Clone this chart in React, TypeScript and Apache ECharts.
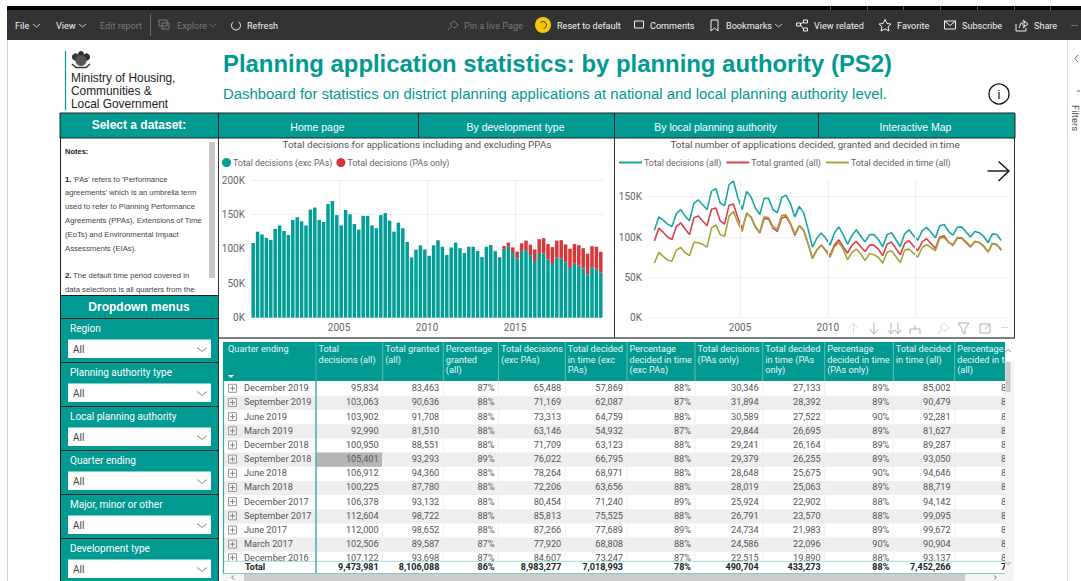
import React, { useEffect, useRef } from "react";
import * as echarts from "echarts";

// ---- series data (quarters from Q1 2000 to Q4 2019) ----
const firstYear = 2000;
const decisionsAll = [
  108500, 125000, 121000, 116000, 113000, 129000, 134000, 126000, 120000, 142000, 146000, 140000,
  134000, 157000, 160000, 142000, 139000, 165000, 169500, 149000, 134000, 156500, 150000, 136000,
  128000, 148000, 148000, 134000, 130000, 149000, 152000, 141000, 125000, 138000, 130000, 110000,
  87500, 98500, 105000, 99000, 90000, 105000, 112500, 103000, 91000, 102000, 109000, 101000,
  94000, 103000, 103000, 97000, 88000, 103000, 105500, 97000, 88000, 104000, 109000, 102000,
  96000, 108000, 112000, 106000, 99000, 114000, 115500, 107122, 102506, 112000, 112604, 106378,
  100225, 106912, 105401, 100950, 92990, 103902, 103063, 95834,
];
const decisionsExcPAs = [
  108500, 125000, 121000, 116000, 113000, 129000, 134000, 126000, 120000, 142000, 146000, 140000,
  134000, 157000, 160000, 142000, 139000, 165000, 169500, 149000, 134000, 156500, 150000, 136000,
  128000, 148000, 148000, 134000, 130000, 149000, 152000, 141000, 125000, 138000, 130000, 110000,
  87500, 98500, 105000, 99000, 90000, 105000, 112500, 103000, 91000, 102000, 109000, 101000,
  94000, 103000, 103000, 97000, 88000, 103000, 105500, 96000, 87000, 100000, 103000, 94000,
  86000, 97000, 98000, 91000, 81000, 94000, 93000, 84607, 77920, 87266, 85813, 80454,
  72206, 78264, 76022, 71709, 63146, 73313, 71169, 65488,
];
const decisionsPAsOnly = [
  0, 0, 0, 0, 0, 0, 0, 0, 0, 0, 0, 0, 0, 0, 0, 0, 0, 0, 0, 0,
  0, 0, 0, 0, 0, 0, 0, 0, 0, 0, 0, 0, 0, 0, 0, 0, 0, 0, 0, 0,
  0, 0, 0, 0, 0, 0, 0, 0, 0, 0, 0, 0, 0, 0, 0, 1000, 1000, 4000, 6000, 8000,
  10000, 11000, 14000, 15000, 18000, 20000, 22500, 22515, 24586, 24734, 26791, 25924,
  28019, 28648, 29379, 29241, 29844, 30589, 31894, 30346,
];
const grantedAll = [
  95000, 111000, 106000, 100000, 97000, 113000, 117500, 110000, 103000, 124000, 126000, 120000,
  114000, 134500, 136000, 120000, 116000, 139500, 141000, 124000, 110000, 129000, 125000, 113000,
  105000, 123000, 122500, 111000, 107000, 124000, 125000, 116000, 102000, 114000, 108000, 92000,
  73500, 84000, 90000, 84000, 77000, 90000, 96500, 88000, 80000, 90000, 94500, 88000,
  82000, 90000, 90000, 85000, 77000, 91000, 94000, 86000, 78000, 92000, 95500, 89000,
  83000, 94000, 98000, 92000, 86000, 100000, 101500, 93698, 89587, 98652, 98722, 93132,
  87780, 94360, 93293, 88551, 81510, 91708, 90636, 83463,
];
const decidedInTimeAll = [
  67500, 81000, 76000, 71500, 70000, 84000, 87000, 80500, 77000, 93500, 93000, 91000,
  87500, 111000, 115000, 103000, 101000, 126000, 131500, 118000, 107000, 130000, 124000, 112000,
  106000, 125500, 124000, 113000, 110000, 127000, 127500, 117000, 104000, 114500, 109000, 92000,
  74000, 84000, 90000, 83000, 75000, 88000, 93000, 85000, 72000, 81000, 85000, 79000,
  71000, 79500, 78000, 75000, 67500, 81000, 83000, 76000, 68500, 84000, 85000, 80000,
  75000, 87000, 90500, 87000, 83000, 98500, 99500, 93137, 90904, 99672, 99095, 94142,
  88719, 94646, 93050, 89287, 81627, 92281, 90479, 85002,
];

// ---- table data ----
const tableHeaders = [
  ["Total", "decisions (all)"], ["Total granted", "(all)"], ["Percentage", "granted", "(all)"],
  ["Total decisions", "(exc PAs)"], ["Total decided", "in time (exc", "PAs)"],
  ["Percentage", "decided in time", "(exc PAs)"], ["Total decisions", "(PAs only)"],
  ["Total decided", "in time (PAs", "only)"], ["Percentage", "decided in time", "(PAs only)"],
  ["Total decided", "in time (all)"], ["Percentage", "decided in time", "(all)"],
];
const quarterLabels = ["December 2019", "September 2019", "June 2019", "March 2019", "December 2018", "September 2018", "June 2018", "March 2018", "December 2017", "September 2017", "June 2017", "March 2017", "December 2016"];
const colTotalAll = ["95,834", "103,063", "103,902", "92,990", "100,950", "105,401", "106,912", "100,225", "106,378", "112,604", "112,000", "102,506", "107,122"];
const colGranted = ["83,463", "90,636", "91,708", "81,510", "88,551", "93,293", "94,360", "87,780", "93,132", "98,722", "98,652", "89,587", "93,698"];
const colPctGranted = ["87%", "88%", "88%", "88%", "88%", "89%", "88%", "88%", "88%", "88%", "88%", "87%", "87%"];
const colTotalExc = ["65,488", "71,169", "73,313", "63,146", "71,709", "76,022", "78,264", "72,206", "80,454", "85,813", "87,266", "77,920", "84,607"];
const colDecidedExc = ["57,869", "62,087", "64,759", "54,932", "63,123", "66,795", "68,971", "63,656", "71,240", "75,525", "77,689", "68,808", "73,247"];
const colPctExc = ["88%", "87%", "88%", "87%", "88%", "88%", "88%", "88%", "89%", "88%", "89%", "88%", "87%"];
const colTotalPA = ["30,346", "31,894", "30,589", "29,844", "29,241", "29,379", "28,648", "28,019", "25,924", "26,791", "24,734", "24,586", "22,515"];
const colDecidedPA = ["27,133", "28,392", "27,522", "26,695", "26,164", "26,255", "25,675", "25,063", "22,902", "23,570", "21,983", "22,096", "19,890"];
const colPctPA = ["89%", "89%", "90%", "89%", "89%", "89%", "90%", "89%", "88%", "88%", "89%", "90%", "88%"];
const colDecidedAll = ["85,002", "90,479", "92,281", "81,627", "89,287", "93,050", "94,646", "88,719", "94,142", "99,095", "99,672", "90,904", "93,137"];
const colPctAll = ["89%", "88%", "89%", "88%", "88%", "88%", "89%", "89%", "89%", "88%", "89%", "89%", "87%"];
const totalRow = ["9,473,981", "8,106,088", "86%", "8,983,277", "7,018,993", "78%", "490,704", "433,273", "88%", "7,452,266", "79%"];

const dropdownLabels = ["Region", "Planning authority type", "Local planning authority", "Quarter ending", "Major, minor or other", "Development type"];
const navLabels = ["Home page", "By development type", "By local planning authority", "Interactive Map"];
const notesLines = [
  "1. 'PAs' refers to 'Performance", "agreements' which is an umbrella term", "used to refer to Planning Performance",
  "Agreements (PPAs), Extensions of Time", "(EoTs) and Environmental Impact", "Assessments (EIAs).", "",
  "2. The default time period covered in", "data selections is all quarters from the",
];

const TEAL = "#009a93";
const ARIAL = "'Liberation Sans', Arial, sans-serif";
const UI = "Roboto, sans-serif";

const T = (text: string, x: number, y: number, size: number, fill: string, opt: any = {}) => ({
  type: "text", x, y, silent: true,
  style: {
    text, fill,
    font: `${opt.bold ? "bold " : ""}${size}px ${opt.family || UI}`,
    textAlign: opt.align || "left", textVerticalAlign: "middle",
    align: opt.align || "left", verticalAlign: "middle",
  },
});
const R = (x: number, y: number, w: number, h: number, fill: string, stroke?: string, lw = 1) => ({
  type: "rect", silent: true, shape: { x, y, width: w, height: h },
  style: { fill, stroke: stroke || undefined, lineWidth: stroke ? lw : 0 },
});
const L = (x1: number, y1: number, x2: number, y2: number, stroke: string, lw = 1) => ({
  type: "line", silent: true, shape: { x1, y1, x2, y2 }, style: { stroke, lineWidth: lw },
});
const P = (points: number[][], stroke: string, lw = 1) => ({
  type: "polyline", silent: true, shape: { points }, style: { stroke, lineWidth: lw, fill: "none" },
});
const C = (cx: number, cy: number, r: number, fill: string, stroke?: string, lw = 1) => ({
  type: "circle", silent: true, shape: { cx, cy, r }, style: { fill, stroke: stroke || undefined, lineWidth: stroke ? lw : 0 },
});

function chrome() {
  const e: any[] = [];
  const BG = "#333333", W = "#f2f2f2", DIM = "#7a7a7a", S = 9.1;
  // browser / service bar
  e.push(R(7, 6, 1074, 4, "#000"));
  [830, 867, 903, 940, 977, 1014, 1050].forEach((x) => e.push(L(x + 0.5, 6, x + 0.5, 10, "#555")));
  e.push(R(7, 10, 1074, 30, BG));
  e.push(L(7.5, 40, 7.5, 581, "#d0d0d0"));
  const chev = (x: number, c = W) => P([[x, 24], [x + 3.5, 27], [x + 7, 24]], c, 0.8);
  e.push(T("File", 15, 25.5, S, W), chev(33));
  e.push(T("View", 56, 25.5, S, W), chev(79));
  e.push(T("Edit report", 100, 25.5, S, DIM));
  e.push(L(150.5, 14, 150.5, 36, "#666"));
  e.push(R(159, 20, 8, 6, "none", DIM), R(162, 23, 7, 6, "none", DIM));
  e.push(T("Explore", 177, 25.5, S, DIM), chev(209, DIM));
  e.push({ type: "arc", silent: true, shape: { cx: 236, cy: 25.5, r: 4.5, startAngle: -1.0, endAngle: 4.0 }, style: { stroke: W, fill: "none", lineWidth: 1 } });
  e.push(T("Refresh", 247, 25.5, S, W));
  e.push(P([[448, 30], [452, 26], [450, 24], [454, 21], [458, 25], [455, 28], [453, 27]], DIM));
  e.push(T("Pin a live Page", 464, 25.5, S, DIM));
  e.push(C(543, 25, 8, "#f2c811"));
  e.push({ type: "arc", silent: true, shape: { cx: 543, cy: 25, r: 3.5, startAngle: -2.4, endAngle: 1.4 }, style: { stroke: "#4a3c00", fill: "none", lineWidth: 1 } });
  e.push(T("Reset to default", 557, 25.5, S, W));
  e.push(R(634.5, 21, 9, 7, "none", W));
  e.push(T("Comments", 650, 25.5, S, W));
  e.push(P([[711, 20], [718, 20], [718, 31], [714.5, 28], [711, 31], [711, 20]], W));
  e.push(T("Bookmarks", 726, 25.5, S, W), chev(775));
  e.push(R(796.5, 23, 4, 3, "none", W), R(803.5, 20, 4, 3, "none", W), R(803.5, 28, 4, 3, "none", W));
  e.push(P([[800.5, 24], [803.5, 22]], W), P([[800.5, 25], [803.5, 29]], W));
  e.push(T("View related", 814, 25.5, S, W));
  e.push(P([[885, 19.5], [887, 23.5], [891, 24], [888, 27], [889, 31], [885, 29], [881, 31], [882, 27], [879, 24], [883, 23.5], [885, 19.5]], W));
  e.push(T("Favorite", 897, 25.5, S, W));
  e.push(R(944.5, 21, 11, 8, "none", W), P([[944.5, 21], [950, 25.5], [955.5, 21]], W));
  e.push(T("Subscribe", 962, 25.5, S, W));
  e.push(P([[1016, 24], [1016, 31], [1026, 31], [1026, 28]], W), P([[1019, 28], [1021, 23], [1025, 23], [1023, 20], [1028, 24], [1023, 28], [1025, 25], [1022, 25]], W));
  e.push(T("Share", 1034, 25.5, S, W));
  e.push(T("···", 1071, 25.5, S, W));
  // filters pane
  e.push(L(1067.5, 40, 1067.5, 581, "#dddddd"));
  e.push(P([[1078, 55], [1075, 58.5], [1078, 62]], "#666"));
  e.push(P([[1077, 91], [1080, 91]], "#666"));
  e.push({ ...T("Filters", 1075, 118, 9.5, "#555", { align: "center" }), rotation: -Math.PI / 2 });

  // header
  e.push(L(65.5, 51, 65.5, 110, TEAL, 1.2));
  e.push(C(75.5, 57, 3.6, "#333"), C(86.5, 57, 3.6, "#333"), C(81, 54, 3, "#333"), C(81, 60.5, 5.5, "#555"), P([[72, 64], [76, 67.5], [86, 67.5], [90, 64]], "#333", 1.6));
  e.push(T("Ministry of Housing,", 71, 77.5, 11.9, "#222", { family: ARIAL }));
  e.push(T("Communities &", 71, 90.5, 11.9, "#222", { family: ARIAL }));
  e.push(T("Local Government", 71, 103.5, 11.9, "#222", { family: ARIAL }));
  e.push(T("Planning application statistics: by planning authority (PS2)", 223, 63.5, 23.9, TEAL, { bold: true, family: ARIAL }));
  e.push(T("Dashboard for statistics on district planning applications at national and local planning authority level.", 223, 94, 14.9, TEAL, { family: ARIAL }));
  e.push(C(999, 94, 10, "#fff", "#111", 1.3));
  e.push(T("i", 999, 94.5, 13, "#111", { align: "center", family: ARIAL }));

  // nav bar
  e.push(R(60, 113, 955, 25, TEAL, "#222"));
  [218.5, 418.5, 614.5, 818.5].forEach((x) => e.push(L(x, 113, x, 138, "#222")));
  e.push(T("Select a dataset:", 139, 125, 12, "#fff", { bold: true, family: ARIAL, align: "center" }));
  [[418.5, 218.5], [614.5, 418.5], [818.5, 614.5], [1014.5, 818.5]].forEach(([b, a], i) =>
    e.push(T(navLabels[i], (a + b) / 2 - 1, 126.5, 10.5, "#fff", { family: ARIAL, align: "center" })));

  // panel borders
  e.push(L(218.5, 138, 218.5, 581, "#333"));
  e.push(L(614.5, 138, 614.5, 338, "#333"));
  e.push(L(1014.5, 138, 1014.5, 338, "#333"));
  e.push(L(219, 338, 1015, 338, "#555", 1.5));
  e.push(L(60.5, 137, 60.5, 581, "#222"));

  // notes
  e.push(T("Notes:", 65, 151, 7.5, "#222", { bold: true, family: ARIAL }));
  notesLines.forEach((s, i) => {
    if (!s) return;
    const y = 179 + i * 13.85;
    if (/^\d\./.test(s)) {
      e.push(T(s.slice(0, 2), 65, y, 7.7, "#222", { bold: true, family: ARIAL }));
      e.push(T(s.slice(2), 71, y, 7.7, "#444", { family: ARIAL }));
    } else e.push(T(s, 65, y, 7.7, "#444", { family: ARIAL }));
  });
  e.push(R(209, 142, 6, 136, "#c8c8c8"));

  // dropdowns
  e.push(R(61, 296, 157, 285, TEAL));
  e.push(L(61, 295.5, 218, 295.5, "#222"));
  e.push(T("Dropdown menus", 139, 307, 12, "#fff", { bold: true, family: ARIAL, align: "center" }));
  dropdownLabels.forEach((s, i) => {
    const y = 318.5 + i * 44;
    e.push(L(61, y, 218, y, "#222"));
    e.push(T(s, 70, y + 10, 10, "#fff"));
    e.push(R(68, y + 21, 143, 18.5, "#fff"));
    e.push(T("All", 73, y + 31, 10, "#444"));
    e.push(P([[197, y + 29], [202, y + 33], [207, y + 29]], "#888"));
  });
  return e;
}

function table() {
  const e: any[] = [];
  const colX = [223, 316, 382.7, 443.3, 498.5, 565.3, 627, 695, 762.7, 824.7, 893.3, 954.7, 1005];
  const cols = [colTotalAll, colGranted, colPctGranted, colTotalExc, colDecidedExc, colPctExc, colTotalPA, colDecidedPA, colPctPA, colDecidedAll];
  const rowTop = 381.7, rowH = 14.17;
  const TXT = "#555", S = 9.2;
  // rows
  quarterLabels.forEach((q, i) => {
    const y = rowTop + i * rowH;
    if (i % 2 === 1) e.push(R(223, y, 782, rowH, "#eeeeee"));
    const cy = y + rowH / 2 - 1 - (i === 12 ? 0.6 : 0);
    if (i === 5) e.push(R(316.5, y, 66, rowH, "#b5b5b5"));
    e.push(R(228.5, cy - 3.5, 8, 8, "none", "#999"));
    e.push(L(230, cy + 0.5, 235, cy + 0.5, "#888"), L(232.5, cy - 2, 232.5, cy + 3, "#888"));
    e.push(T(q, 244, cy, S, TXT));
    cols.forEach((c, k) => e.push(T(c[i], colX[k + 2] - 4, cy, S, TXT, { align: "right" })));
    e.push(T(colPctAll[i], 1001, cy, S, TXT));
  });
  for (let k = 2; k < 12; k++) e.push(L(colX[k], 381, colX[k], 561, "#f0f0f0"));
  // total row
  e.push(R(223, 561, 782, 12, "#fff"));
  e.push(L(223, 561.3, 1005, 561.3, "#a6dcd8"));
  e.push(L(223, 573.5, 1005, 573.5, "#7fcdc8"));
  e.push(T("Total", 245, 567, 9, "#222", { bold: true }));
  totalRow.slice(0, 10).forEach((s, k) => e.push(T(s, colX[k + 2] - 4, 567, 9, "#222", { bold: true, align: "right" })));
  e.push(T(totalRow[10], 1001, 567, 9, "#222", { bold: true }));
  // header
  e.push(R(223, 342, 782, 39, TEAL));
  e.push(T("Quarter ending", 228, 348.5, S, "#e8f6f5"));
  e.push({ type: "polygon", silent: true, shape: { points: [[228, 375], [234, 375], [231, 378]] }, style: { fill: "#fff" } });
  tableHeaders.forEach((lines, k) => {
    lines.forEach((s, j) => e.push(T(s, colX[k + 1] + 2.5, 348.5 + j * 10.5, S, "#e8f6f5")));
    if (k > 0) e.push(L(colX[k + 1], 342, colX[k + 1], 381, "#5dbdb7"));
  });
  e.push(L(223.5, 381, 223.5, 573, "#35aaa4", 1.2));
  e.push(L(316, 342, 316, 573, "#35aaa4", 1.4));
  // scrollbars, and the page margin right of them, hide what overflows the last column
  e.push(R(1014, 340, 40, 241, "#fff"));
  e.push(R(1005, 340, 9, 235, "#f4f4f4"));
  e.push(R(1005, 340, 9, 21, "#fff"));
  e.push(R(1005.5, 362, 5, 30, "#cccccc"));
  e.push(P([[1005.5, 352], [1008, 349.5], [1010.5, 352]], "#888"));
  e.push(P([[1005.5, 562], [1008, 564.5], [1010.5, 562]], "#888"));
  e.push(R(223, 574, 790, 7, "#f4f4f4"));
  e.push(R(244, 574, 721, 7, "#cccccc"));
  e.push(P([[234, 575.5], [231.5, 577.5], [234, 579.5]], "#888"));
  e.push(P([[994, 575.5], [996.5, 577.5], [994, 579.5]], "#888"));
  return e;
}

function overlay() {
  const e: any[] = [];
  const G = "#b0b0b0";
  // arrow
  e.push(L(987.5, 171, 1008, 171, "#111", 1.4));
  e.push(P([[998.5, 161.5], [1009, 171], [998.5, 181]], "#111", 1.4));
  // hover toolbar
  e.push(R(846, 320.5, 167, 16.5, "#fff"));
  e.push(L(853.5, 323, 853.5, 334, "#ddd"), P([[849, 328], [853.5, 323], [858, 328]], "#ddd"));
  e.push(L(874, 323, 874, 334, G), P([[869.5, 329], [874, 334], [878.5, 329]], G));
  e.push(L(891, 323, 891, 334, G), P([[888, 330], [891, 334], [894, 330]], G));
  e.push(L(898, 323, 898, 334, G), P([[895, 330], [898, 334], [901, 330]], G));
  e.push(L(915, 325, 915, 329, G), L(910, 329, 920, 329, G), L(910, 329, 910, 334, G), L(920, 329, 920, 334, G));
  e.push(P([[938, 334], [942, 329], [940, 327], [944, 323], [949, 328], [945, 331], [943, 330]], "#d0d0d0"));
  e.push(P([[958, 323], [969, 323], [965, 329], [965, 334], [962, 332], [962, 329], [958, 323]], G));
  e.push(R(980, 324, 10, 9, "none", G), P([[985, 329], [990, 324]], G));
  e.push(T("···", 1001, 328, 9, "#888"));
  return e;
}

export default function App() {
  const ref = useRef<HTMLDivElement>(null);
  useEffect(() => {
    document.body.style.margin = "0";
    const chart = echarts.init(ref.current!, undefined, { renderer: "svg" });
    const xs = decisionsAll.map((_, i) => firstYear + (i + 0.5) / 4);
    const pair = (a: number[]) => a.map((v, i) => [xs[i], v]);
    const axisText = { color: "#666", fontSize: 10, fontFamily: UI };
    const kFmt = (v: number) => `${v / 1000}K`;
    const gridLine = { show: true, lineStyle: { color: "#eeeeee", width: 1 } };
    const legendText = { color: "#666", fontSize: 8.9, fontFamily: UI };
    const vGrid = [2005, 2010, 2015].map((y) => [{ coord: [y, 0] }, { coord: [y, 170700] }]);
    chart.setOption({
      animation: false,
      backgroundColor: "#fff",
      textStyle: { fontFamily: UI },
      title: [
        { text: "Total decisions for applications including and excluding PPAs", left: 417, top: 139, textAlign: "center", padding: 0, textStyle: { color: "#555", fontSize: 9.9, fontWeight: "normal", fontFamily: UI } },
        { text: "Total number of applications decided, granted and decided in time", left: 815, top: 139, textAlign: "center", padding: 0, textStyle: { color: "#555", fontSize: 9.9, fontWeight: "normal", fontFamily: UI } },
      ],
      legend: [
        { left: 222, top: 158, padding: 0, itemGap: 4, itemWidth: 9, itemHeight: 9, icon: "circle", textStyle: { ...legendText, padding: [0, 0, 0, -3] }, data: ["Total decisions (exc PAs)", "Total decisions (PAs only)"] },
        { left: 619, top: 158, padding: 0, itemGap: 5, itemWidth: 23, itemHeight: 2, icon: "rect", textStyle: { ...legendText, padding: [0, 0, 0, -3] }, data: ["Total decisions (all)", "Total granted (all)", "Total decided in time (all)"] },
      ],
      grid: [
        { left: 251, top: 180, width: 352, height: 137.7 },
        { left: 648, top: 156.4, width: 362, height: 161.3 },
      ],
      xAxis: [
        {
          type: "category", gridIndex: 0, data: xs,
          axisLine: { show: false }, axisTick: { show: false }, axisLabel: { show: false }, splitLine: { show: false },
        },
        {
          type: "value", gridIndex: 0, min: 2000, max: 2020, interval: 5, position: "bottom",
          axisLine: { show: false }, axisTick: { show: false },
          axisLabel: { ...axisText, margin: 5, formatter: (v: number) => String(v), showMinLabel: false, showMaxLabel: false },
          splitLine: { ...gridLine, showMinLine: false, showMaxLine: false },
        },
        {
          type: "value", gridIndex: 1, min: 1999.76, max: 2020.375,
          axisLine: { show: false }, axisTick: { show: false }, splitLine: { show: false },
          axisLabel: { ...axisText, margin: 5, customValues: [2005, 2010], formatter: (v: number) => String(v) },
        },
      ],
      yAxis: [
        { type: "value", gridIndex: 0, min: 0, max: 200000, interval: 50000, axisLine: { show: false }, axisTick: { show: false }, axisLabel: { ...axisText, margin: 6, formatter: kFmt }, splitLine: gridLine },
        { type: "value", gridIndex: 1, min: 0, max: 200000, interval: 50000, axisLine: { show: false }, axisTick: { show: false }, axisLabel: { ...axisText, margin: 6, formatter: kFmt, showMaxLabel: false }, splitLine: { ...gridLine, showMaxLine: false } },
      ],
      series: [
        { name: "Total decisions (exc PAs)", type: "bar", xAxisIndex: 0, yAxisIndex: 0, stack: "d", barWidth: 3.5, data: decisionsExcPAs, itemStyle: { color: "#009e97" } },
        { name: "Total decisions (PAs only)", type: "bar", xAxisIndex: 0, yAxisIndex: 0, stack: "d", barWidth: 3.5, data: decisionsPAsOnly, itemStyle: { color: "#d9363a" } },
        {
          name: "Total decisions (all)", type: "line", xAxisIndex: 2, yAxisIndex: 1, showSymbol: false, data: pair(decisionsAll),
          lineStyle: { color: "#17a8a3", width: 1.6 }, itemStyle: { color: "#17a8a3" },
          markLine: { silent: true, symbol: "none", label: { show: false }, lineStyle: { type: "solid", color: "#eeeeee", width: 1 }, data: vGrid },
        },
        { name: "Total granted (all)", type: "line", xAxisIndex: 2, yAxisIndex: 1, showSymbol: false, data: pair(grantedAll), lineStyle: { color: "#d9404a", width: 1.6 }, itemStyle: { color: "#d9404a" } },
        { name: "Total decided in time (all)", type: "line", xAxisIndex: 2, yAxisIndex: 1, showSymbol: false, data: pair(decidedInTimeAll), lineStyle: { color: "#a8a33e", width: 1.6 }, itemStyle: { color: "#a8a33e" } },
      ],
      graphic: { elements: [...chrome(), ...table(), ...overlay()] },
    });
    return () => chart.dispose();
  }, []);
  return <div ref={ref} style={{ position: "absolute", left: 0, top: 0, width: 1081, height: 581, overflow: "hidden" }} />;
}
